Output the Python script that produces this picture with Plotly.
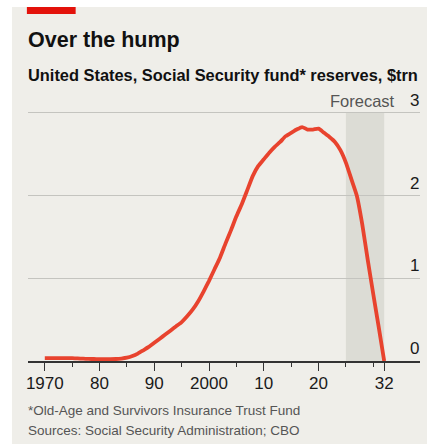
import plotly.graph_objects as go

# OASI trust fund reserves, $trn (actuals to 2024, projections after)
years = list(range(1970, 2033))
reserves = [
    0.035, 0.035, 0.035, 0.035, 0.035, 0.034, 0.031, 0.028, 0.025, 0.024,  # 1970s
    0.022, 0.022, 0.022, 0.024, 0.030, 0.040, 0.060, 0.090, 0.130, 0.170,  # 1980s
    0.220, 0.270, 0.320, 0.370, 0.420, 0.470, 0.540, 0.620, 0.720, 0.840,  # 1990s
    0.970, 1.110, 1.250, 1.420, 1.580, 1.750, 1.900, 2.070, 2.240, 2.360,  # 2000s
    2.440, 2.520, 2.590, 2.650, 2.720, 2.760, 2.800, 2.830, 2.800, 2.800,  # 2010s
    2.810, 2.760, 2.710, 2.650, 2.550, 2.400, 2.200, 2.000, 1.650, 1.220,  # 2020s
    0.810, 0.410, 0.000,
]
forecast_start, forecast_end = 2025, 2032

x_major = [1970, 1980, 1990, 2000, 2010, 2020, 2032]
x_labels = ["1970", "80", "90", "2000", "10", "20", "32"]
x_minor = [1975, 1985, 1995, 2005, 2015, 2025, 2030]
y_ticks = [0, 1, 2, 3]
y_labels = ["0", "1", "2", "3"]

W, H = 427, 444
BG = "#efeee9"
TEXT = "#1a1a1a"
GREY = "#555555"
SANS = "Liberation Sans, Arial, sans-serif"

def px_x(p):
    return p / W

def px_y(p):
    return 1 - p / H

fig = go.Figure()
fig.add_trace(go.Scatter(
    x=years, y=reserves, mode="lines",
    line=dict(color="#e8432e", width=3.8, shape="spline", smoothing=0.5),
    hoverinfo="skip", showlegend=False,
))

shapes = [
    # panel background and red tag
    dict(type="rect", xref="paper", yref="paper", x0=px_x(10), x1=1.0,
         y0=0, y1=px_y(7), fillcolor=BG, line=dict(width=0), layer="below"),
    dict(type="rect", xref="paper", yref="paper", x0=px_x(25), x1=px_x(74),
         y0=px_y(14), y1=px_y(7), fillcolor="#e3120b", line=dict(width=0), layer="above"),
    # forecast band
    dict(type="rect", xref="x", yref="y", x0=forecast_start, x1=forecast_end,
         y0=0, y1=3, fillcolor="#dcdcd5", line=dict(width=0), layer="below"),
]

annotations = [
    dict(text="<b>Over the hump</b>", xref="paper", yref="paper",
         x=px_x(24), y=px_y(40), xanchor="left", yanchor="middle", showarrow=False,
         font=dict(family=SANS, size=21.5, color="#111111")),
    dict(text="<b>United States, Social Security fund* reserves, $trn</b>",
         xref="paper", yref="paper", x=px_x(24), y=px_y(75),
         xanchor="left", yanchor="middle", showarrow=False,
         font=dict(family=SANS, size=16.4, color="#111111")),
    dict(text="Forecast", xref="x", yref="y", x=forecast_end + 2.3, y=3,
         xanchor="right", yanchor="bottom", yshift=1, showarrow=False,
         font=dict(family=SANS, size=16.5, color=GREY)),
    dict(text="*Old-Age and Survivors Insurance Trust Fund", xref="paper", yref="paper",
         x=px_x(24), y=px_y(410), xanchor="left", yanchor="middle", showarrow=False,
         font=dict(family=SANS, size=13.5, color=GREY)),
    dict(text="Sources: Social Security Administration; CBO", xref="paper", yref="paper",
         x=px_x(24), y=px_y(430), xanchor="left", yanchor="middle", showarrow=False,
         font=dict(family=SANS, size=13.5, color=GREY)),
]

# value labels sit on top of their gridlines at the right edge
for v, lab in zip(y_ticks, y_labels):
    annotations.append(dict(
        text=lab, xref="paper", yref="y", x=px_x(421), y=v,
        xanchor="right", yanchor="bottom", yshift=1, showarrow=False,
        font=dict(family=SANS, size=17, color=TEXT),
    ))

# plot area: 26..420 px wide, value 0 at 361 px, 5.5 px per year, 82.67 px per $trn
x0_px, x1_px = 26, 420
y0_px, ppu = 361, 82.67
y_top = 3.25
fig.update_layout(
    width=W, height=H,
    margin=dict(l=0, r=0, t=0, b=0),
    paper_bgcolor="white", plot_bgcolor="rgba(0,0,0,0)",
    shapes=shapes, annotations=annotations,
    xaxis=dict(
        domain=[px_x(x0_px), px_x(x1_px)],
        range=[1970 - (43 - x0_px) / 5.5, 1970 + (x1_px - 43) / 5.5],
        tickmode="array", tickvals=x_major, ticktext=x_labels,
        ticks="outside", ticklen=8, tickwidth=1.3, tickcolor="#333333",
        minor=dict(tickmode="array", tickvals=x_minor, ticks="outside",
                   ticklen=4, tickwidth=1.3, tickcolor="#333333", showgrid=False),
        showline=True, linecolor="#333333", linewidth=1.5,
        showgrid=False, zeroline=False, fixedrange=True,
        ticklabelstandoff=-2,
        tickfont=dict(family=SANS, size=17, color=TEXT),
    ),
    yaxis=dict(
        domain=[px_y(y0_px), px_y(y0_px - y_top * ppu)],
        range=[0, y_top], side="right",
        tickmode="array", tickvals=y_ticks, showticklabels=False, ticks="",
        showgrid=True, gridcolor="#c4c4bf", gridwidth=1,
        zeroline=False, showline=False, fixedrange=True,
    ),
)

fig.write_html("out.html")
